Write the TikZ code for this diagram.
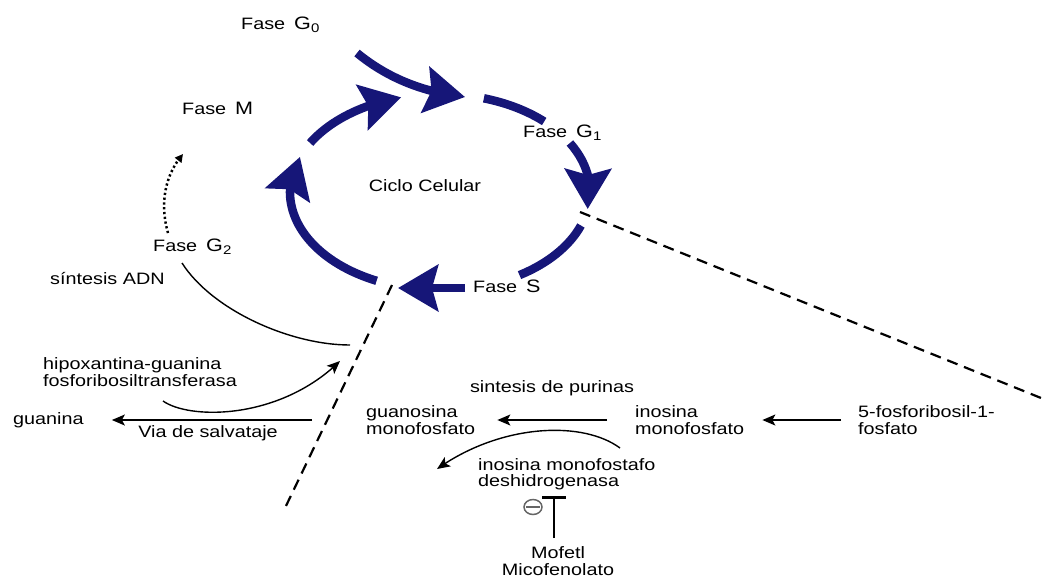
\documentclass[tikz,border=0pt]{standalone}
\usepackage{fontspec}
\setmainfont{Liberation Sans}[FakeStretch=1.2]
\usetikzlibrary{arrows.meta,bending,calc,shapes.geometric}
\definecolor{cycblue}{RGB}{22,22,120}
\newcommand\phaselbl[2]{Fase\hspace{9pt}{\fontsize{18}{18}\selectfont #1}\raisebox{-3pt}{\fontsize{12.5}{12.5}\selectfont #2}}
\begin{document}
\begin{tikzpicture}[x=1pt,y=-1pt,
  every node/.style={font=\fontsize{16.5}{16.5}\selectfont, inner sep=0pt},
  lbl/.style={text height=12pt, text depth=3.5pt},
  ml/.style={align=left, anchor=west},
  cycarrow/.style={draw=cycblue, line width=8.5pt, -{Stealth[length=40pt,width=46pt,inset=6pt]}},
  cycline/.style={draw=cycblue, line width=8.5pt},
  blk/.style={draw=black, line width=1.4pt, -{Stealth[length=13pt,width=11pt,inset=3pt]}},
  thin/.style={draw=black, line width=1.4pt},
  dsh/.style={draw=black, line width=2.2pt, dash pattern=on 11pt off 7pt},
  dots/.style={draw=black, line width=2.5pt, dash pattern=on 2.2pt off 2.6pt, -{Triangle[length=8pt,width=8pt]}},
]
\useasboundingbox (0,0) rectangle (1046,579);

% cycle labels
\node[lbl, anchor=west] (g0) at (241,25) {\phaselbl{G}{0}};
\node[lbl, anchor=west] (m) at (182,110) {Fase\hspace{9pt}{\fontsize{18}{18}\selectfont M}};
\node[lbl, anchor=west] (g1) at (523,133) {\phaselbl{G}{1}};
\node[lbl, anchor=west] (g2) at (153,247) {\phaselbl{G}{2}};
\node[lbl, anchor=west] (s) at (473,288) {Fase\hspace{9pt}{\fontsize{18}{18}\selectfont S}};
\node[lbl] (cc) at (425,187) {Ciclo Celular};

% cycle arrows
\coordinate (c) at (440,192);
\coordinate (g0start) at (357,53);
\coordinate (g0end) at (465,97);
\draw[cycarrow] (g0start) .. controls (385,76) and (420,92) .. (g0end);
\draw[cycline] ($(c)+(-73:150 and 98)$) arc[start angle=-73,end angle=-46,x radius=150,y radius=98];
\draw[cycarrow] ($(c)+(-30:150 and 98)$) arc[start angle=-30,end angle=10,x radius=150,y radius=98];
\draw[cycline] ($(c)+(20:150 and 98)$) arc[start angle=20,end angle=58,x radius=150,y radius=98];
\coordinate (sstart) at (465,288);
\coordinate (send) at (398,288);
\draw[cycarrow] (sstart) -- (send);
\draw[cycarrow] ($(c)+(115:150 and 98)$) arc[start angle=115,end angle=201,x radius=150,y radius=98];
\draw[cycarrow] ($(c)+(210:150 and 98)$) arc[start angle=210,end angle=255,x radius=150,y radius=98];

% dotted arrow G2 -> M
\coordinate (dstart) at (168,233);
\coordinate (dend) at (183,154);
\draw[dots] (dstart) .. controls (160,205) and (164,176) .. (dend);

% dashed lines
\coordinate (d1a) at (392,285);
\coordinate (d1b) at (285,508);
\draw[dsh] (d1a) -- (d1b);
\coordinate (d2a) at (580,212);
\coordinate (d2b) at (1046,400);
\draw[dsh] (d2a) -- (d2b);

% left texts
\node[lbl, anchor=west] (adn) at (50,280) {síntesis ADN};
\node[ml] (hgprt) at (43,372) {hipoxantina-guanina\\fosforibosiltransferasa};
\node[lbl, anchor=west] (guanina) at (13,420) {guanina};
\node[lbl] (via) at (208,433) {Via de salvataje};

\coordinate (adnstart) at (182,263);
\coordinate (adnend) at (350,345);
\draw[thin] (adnstart) .. controls (212,310) and (290,345) .. (adnend);

\coordinate (hstart) at (163,401);
\coordinate (hend) at (340,361);
\draw[blk] (hstart) .. controls (190,420) and (280,420) .. (hend);

\coordinate (gstart) at (312,420);
\draw[blk] (gstart) -- ($(guanina.east)+(28,0)$);

% purine synthesis
\node[lbl] (purinas) at (552,388) {sintesis de purinas};
\node[ml] (gmp) at (366,420) {guanosina\\monofosfato};
\node[ml] (imp) at (635,420) {inosina\\monofosfato};
\node[ml] (prpp) at (858,420) {5-fosforibosil-1-\\fosfato};
\node[ml] (impdh) at (478,474) {inosina monofostafo\\deshidrogenasa};
\node[align=center] (mmf) at (558,561) {Mofetl\\Micofenolato};

\draw[blk] ($(imp.west)+(-28,0)$) -- ($(gmp.east)+(22,0)$);
\draw[blk] ($(prpp.west)+(-17,0)$) -- ($(imp.east)+(18,0)$);

\coordinate (istart) at (620,448);
\coordinate (iend) at (437,469);
\draw[blk] (istart) .. controls (582,420) and (500,424) .. (iend);

% inhibition
\coordinate (inhA) at (554,538);
\coordinate (inhB) at (554,496);
\draw[line width=2pt, -{Bar[width=24pt,line width=3pt]}] (inhA) -- (inhB);
\node[draw=gray!80!black, line width=1.5pt, ellipse, minimum width=18pt, minimum height=15pt, inner sep=0pt] (minus) at (533,507) {};
\draw[gray!80!black, line width=1.5pt] ($(minus.west)+(3,0)$) -- ($(minus.east)+(-3,0)$);
\end{tikzpicture}
\end{document}
